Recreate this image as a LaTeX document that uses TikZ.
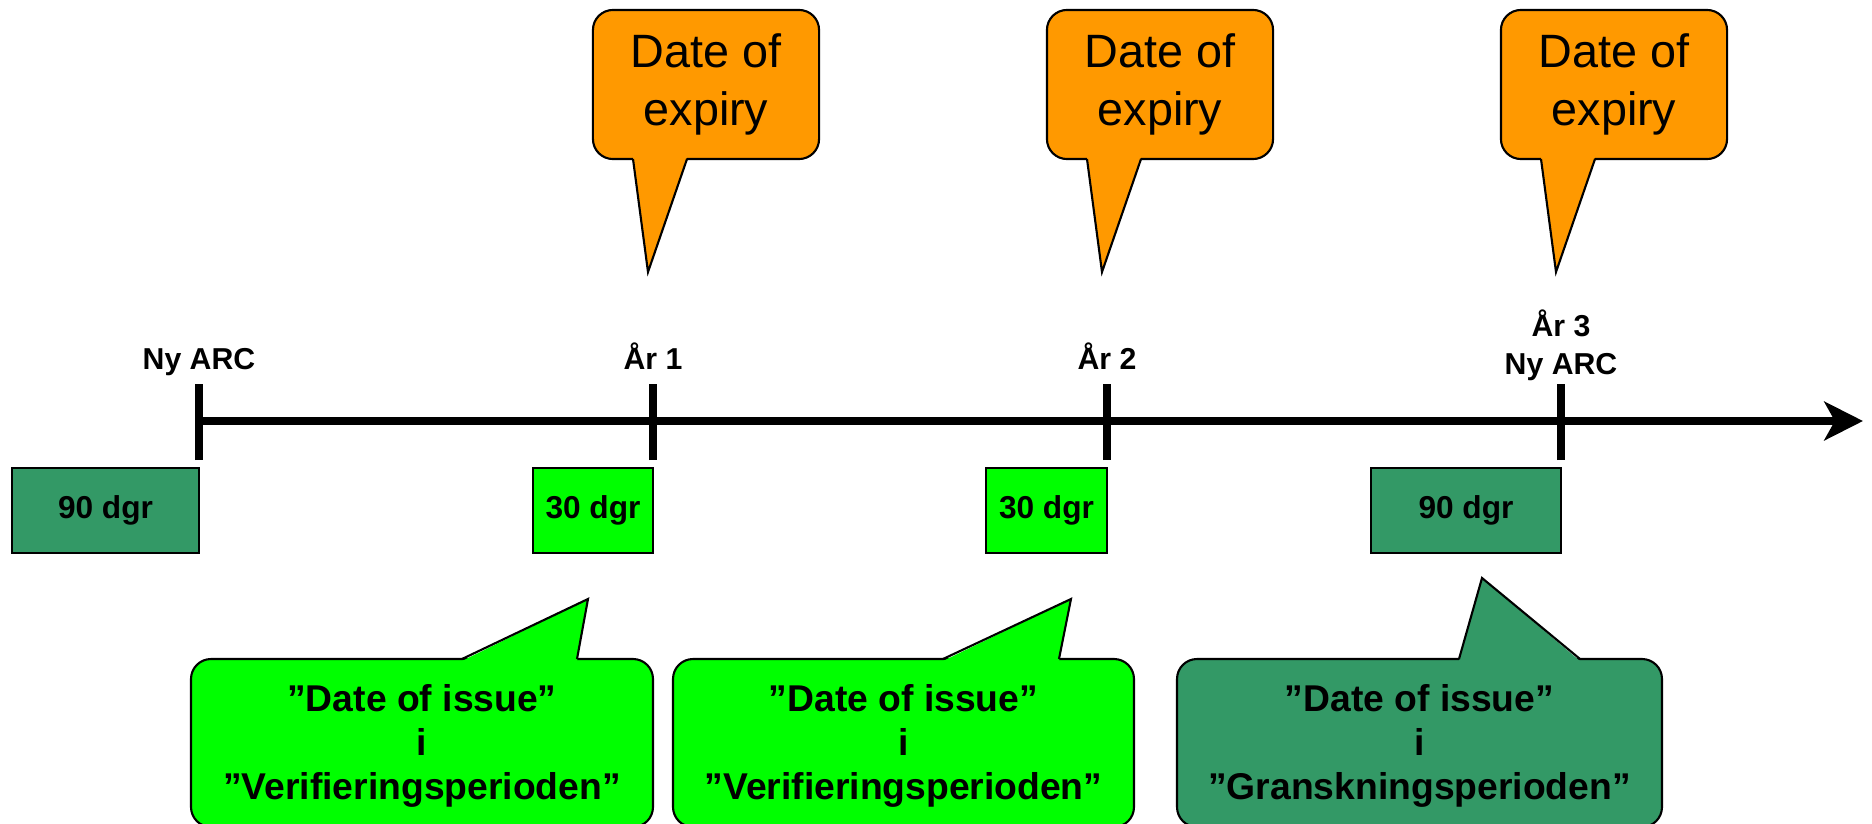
\documentclass[tikz,border=0pt]{standalone}
\usepackage{fontspec}
\setmainfont{Liberation Sans}
\usetikzlibrary{arrows.meta}
\definecolor{expiry}{HTML}{FF9900}
\definecolor{verigreen}{HTML}{00FF00}
\definecolor{revgreen}{HTML}{339966}
\def\fs#1#2{\fontsize{#1}{#2}\selectfont}
% tail of a speech bubble: colour, left x, right x, edge y, fill y, tip
\newcommand\bubbletail[6]{%
  \fill[#1] (#2,#5) -- (#6) -- (#3,#5) -- cycle;
  \draw[bubbleline] (#2,#4) -- (#6) -- (#3,#4);}

\begin{document}
\begin{tikzpicture}[x=0.01cm, y=0.01cm,
    bubbleline/.style={line width=0.6pt},
    yearmark/.style={line width=2pt},
    yearlabel/.style={font=\fs{8.6}{10.8}\bfseries, align=center, inner sep=0pt},
    daybox/.style={draw, bubbleline, minimum height=0.85cm, inner sep=0pt, font=\fs{9}{11}\bfseries},
    bubble/.style={draw, bubbleline, rounded corners=0.2cm},
    bubbletext/.style={align=center, inner sep=0pt, font=\fs{10.6}{12.5}\bfseries}]
    \useasboundingbox (0,0) rectangle (1872,823);

    % time line
    \coordinate (start) at (199,402);
    \coordinate (end) at (1863,402);
    \draw[line width=2pt, -{Stealth[length=11pt, width=11pt, inset=3pt]}] (start) -- (end);
    \foreach \x in {199,653,1107,1561}
        \draw[yearmark] (\x,363) -- (\x,439);
    \node[yearlabel, anchor=base] (arc0) at (199,454) {Ny ARC};
    \node[yearlabel, anchor=base] (yr1) at (653,454) {År 1};
    \node[yearlabel, anchor=base] (yr2) at (1107,454) {År 2};
    \node[yearlabel, anchor=south] (yr3) at (1561,442) {År 3\\Ny ARC};

    % days
    \node[daybox, fill=revgreen, minimum width=1.87cm] (d90a) at (105.5,312.5) {90 dgr};
    \node[daybox, fill=verigreen, minimum width=1.20cm] (d30a) at (593,312.5) {30 dgr};
    \node[daybox, fill=verigreen, minimum width=1.21cm] (d30b) at (1046.5,312.5) {30 dgr};
    \node[daybox, fill=revgreen, minimum width=1.90cm] (d90b) at (1466,312.5) {90 dgr};

    % date of expiry
    \foreach \i in {0,1,2} {
        \pgfmathsetmacro\o{454*\i}
        \node[bubble, fill=expiry, minimum width=2.26cm, minimum height=1.49cm,
            font=\fs{13.3}{16.5}, align=center, inner sep=0pt] (exp\i) at (706+\o,738.5) {Date of\\expiry};
        \bubbletail{expiry}{633+\o}{687+\o}{664}{666}{648+\o,551}
    }

    % date of issue
    \draw[bubble, fill=verigreen] (191,-4) rectangle (653,164);
    \bubbletail{verigreen}{462}{577}{164}{162}{588,224}
    \node[bubbletext] (iss1) at (422,77) {”Date of issue”\\i\\”Verifieringsperioden”};
    \draw[bubble, fill=verigreen] (673,-4) rectangle (1134,164);
    \bubbletail{verigreen}{943}{1059}{164}{162}{1071,224}
    \node[bubbletext] (iss2) at (903.5,77) {”Date of issue”\\i\\”Verifieringsperioden”};
    \draw[bubble, fill=revgreen] (1177,-4) rectangle (1662,164);
    \bubbletail{revgreen}{1459}{1580}{164}{162}{1482,245}
    \node[bubbletext] (iss3) at (1419.5,77) {”Date of issue”\\i\\”Granskningsperioden”};
\end{tikzpicture}
\end{document}
